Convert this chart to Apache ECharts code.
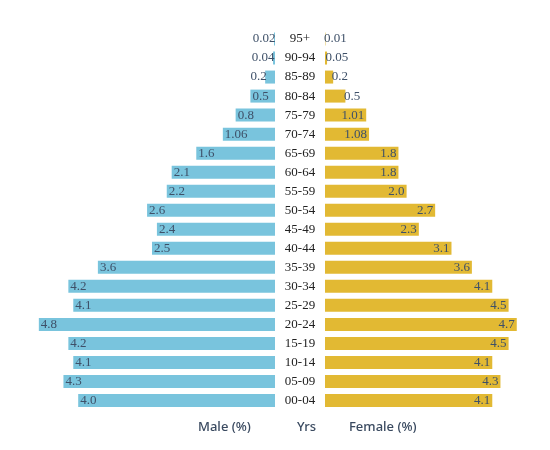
<!DOCTYPE html>
<html>
<head>
<meta charset="utf-8">
<script src="https://cdn.jsdelivr.net/npm/echarts@6/dist/echarts.min.js"></script>
<style>
    html, body {margin: 0; padding: 0; background: #fff;}
    #chart {width: 550px; height: 450px;}
</style>
</head>
<body>
<div id="chart"></div>
<script>
// age groups, top to bottom
var ageGroups = ['95+', '90-94', '85-89', '80-84', '75-79', '70-74', '65-69', '60-64', '55-59', '50-54',
    '45-49', '40-44', '35-39', '30-34', '25-29', '20-24', '15-19', '10-14', '05-09', '00-04'];
var maleShare = [0.02, 0.04, 0.2, 0.5, 0.8, 1.06, 1.6, 2.1, 2.2, 2.6,
    2.4, 2.5, 3.6, 4.2, 4.1, 4.8, 4.2, 4.1, 4.3, 4.0];
var femaleShare = [0.01, 0.05, 0.2, 0.5, 1.01, 1.08, 1.8, 1.8, 2.0, 2.7,
    2.3, 3.1, 3.6, 4.1, 4.5, 4.7, 4.5, 4.1, 4.3, 4.1];

var textColor = '#3e5068';
var serif = 'Liberation Serif';

function fmt(v) {
    return Math.round(v * 10) === v * 10 ? v.toFixed(1) : v.toFixed(2);
}

// bars too short for their label get it outside the bar end
function withLabels(values, limit, inside, outside) {
    return values.map(function (v) {
        var out = v < limit;
        return {
            value: v,
            label: {position: out ? outside : inside, distance: out ? -1.5 : 2}
        };
    });
}

var commonX = {
    type: 'value',
    min: 0,
    max: 5,
    show: false
};

var option = {
    animation: false,
    grid: [
        {left: 29, right: 275, top: 29.5, bottom: 40},
        {left: 325, right: 21, top: 29.5, bottom: 40}
    ],
    xAxis: [
        Object.assign({gridIndex: 0, inverse: true}, commonX),
        Object.assign({gridIndex: 1}, commonX)
    ],
    yAxis: [
        {
            gridIndex: 0,
            type: 'category',
            data: ageGroups,
            inverse: true,
            show: false
        },
        {
            gridIndex: 1,
            type: 'category',
            data: ageGroups,
            inverse: true,
            position: 'left',
            axisLine: {show: false},
            axisTick: {show: false},
            axisLabel: {
                margin: 25,
                align: 'center',
                color: '#222',
                fontFamily: serif,
                fontSize: 13
            }
        }
    ],
    series: [
        {
            name: 'Male (%)',
            type: 'bar',
            xAxisIndex: 0,
            yAxisIndex: 0,
            barWidth: 13,
            itemStyle: {color: '#79c4dd'},
            label: {
                show: true,
                color: textColor,
                fontFamily: serif,
                fontSize: 13,
                formatter: function (p) { return fmt(p.value); }
            },
            data: withLabels(maleShare, 0.45, 'insideLeft', 'left')
        },
        {
            name: 'Female (%)',
            type: 'bar',
            xAxisIndex: 1,
            yAxisIndex: 1,
            barWidth: 13,
            itemStyle: {color: '#e2b933'},
            label: {
                show: true,
                color: textColor,
                fontFamily: serif,
                fontSize: 13,
                formatter: function (p) { return fmt(p.value); }
            },
            data: withLabels(femaleShare, 0.6, 'insideRight', 'right')
        }
    ],
    graphic: [
        {type: 'text', left: 198, top: 421, style: {text: 'Male (%)', fill: '#3a4a60', font: '500 13px "Noto Sans"'}},
        {type: 'text', left: 297, top: 421, style: {text: 'Yrs', fill: '#3a4a60', font: '500 13px "Noto Sans"'}},
        {type: 'text', left: 349, top: 421, style: {text: 'Female (%)', fill: '#3a4a60', font: '500 13px "Noto Sans"'}}
    ]
};

var chart = echarts.init(document.getElementById('chart'));
chart.setOption(option);
</script>
</body>
</html>
